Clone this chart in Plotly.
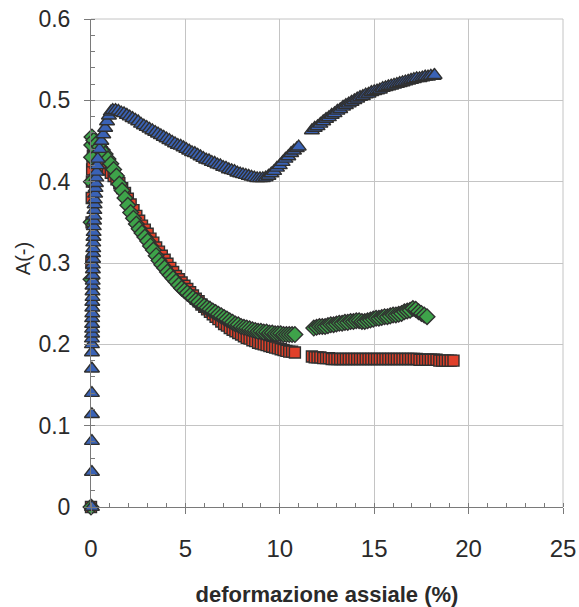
import plotly.graph_objects as go

# ---------------- data ----------------
# Blue triangles
blue_x = [0.05, 0.05, 0.05, 0.05, 0.05, 0.05, 0.05,
          0.05, 0.05, 0.06, 0.06, 0.06, 0.06, 0.07, 0.07, 0.07, 0.08, 0.08, 0.08, 0.09, 0.09,
          0.10, 0.10, 0.11, 0.11, 0.12, 0.12, 0.13, 0.14, 0.15, 0.16, 0.17, 0.18, 0.19, 0.20,
          0.22, 0.24, 0.26, 0.28, 0.30, 0.33, 0.36,
          0.45, 0.55, 0.65, 0.75, 0.85, 0.95, 1.05,
          1.15, 1.3, 1.45, 1.6, 1.75, 1.9, 2.05, 2.2, 2.35, 2.5, 2.65, 2.8, 2.95, 3.1, 3.25,
          3.4, 3.55, 3.7, 3.85, 4.0, 4.15, 4.3, 4.45, 4.6, 4.75, 4.9, 5.05, 5.2, 5.35, 5.5,
          5.65, 5.8, 5.95, 6.1, 6.25, 6.4, 6.55, 6.7, 6.85, 7.0, 7.15, 7.3, 7.45, 7.6, 7.75,
          7.9, 8.05, 8.2, 8.35, 8.5, 8.65, 8.8, 8.95, 9.1, 9.25, 9.4, 9.55, 9.7, 9.85, 10.0,
          10.15, 10.3, 10.45, 10.6, 10.75, 10.9, 11.0,
          None,
          11.7, 11.85, 12.0, 12.15, 12.3, 12.45, 12.6, 12.75, 12.9, 13.05, 13.2, 13.35, 13.5,
          13.65, 13.8, 13.95, 14.1, 14.25, 14.4, 14.55, 14.7, 14.85, 15.0, 15.15, 15.3, 15.45,
          15.6, 15.75, 15.9, 16.05, 16.2, 16.35, 16.5, 16.65, 16.8, 16.95, 17.1, 17.25, 17.4,
          17.55, 17.7, 17.85, 18.0, 18.15, 18.2]
blue_y = [0.0, 0.043, 0.081, 0.114, 0.140, 0.170, 0.190,
          0.200, 0.207, 0.213, 0.219, 0.225, 0.232, 0.238, 0.245, 0.252, 0.258, 0.265, 0.272, 0.278, 0.285,
          0.292, 0.298, 0.305, 0.312, 0.318, 0.325, 0.332, 0.338, 0.345, 0.352, 0.358, 0.365, 0.372, 0.378,
          0.385, 0.392, 0.398, 0.405, 0.412, 0.420, 0.428,
          0.440, 0.450, 0.458, 0.466, 0.474, 0.481, 0.486,
          0.488, 0.488, 0.487, 0.485, 0.484, 0.482, 0.480, 0.478, 0.476, 0.474, 0.471, 0.469, 0.467, 0.465, 0.463,
          0.461, 0.459, 0.457, 0.455, 0.453, 0.451, 0.449, 0.447, 0.445, 0.444, 0.442, 0.440, 0.438, 0.436, 0.435,
          0.433, 0.431, 0.429, 0.427, 0.426, 0.424, 0.423, 0.421, 0.420, 0.418, 0.417, 0.415, 0.414, 0.413, 0.411,
          0.410, 0.409, 0.408, 0.407, 0.406, 0.405, 0.404, 0.404, 0.404, 0.405, 0.407, 0.410, 0.413, 0.417, 0.420,
          0.424, 0.428, 0.431, 0.435, 0.438, 0.441, 0.443,
          None,
          0.463, 0.466, 0.468, 0.471, 0.474, 0.477, 0.479, 0.482, 0.484, 0.487, 0.489, 0.492, 0.494,
          0.496, 0.498, 0.500, 0.502, 0.504, 0.505, 0.507, 0.508, 0.510, 0.511, 0.512, 0.513, 0.515,
          0.516, 0.517, 0.518, 0.519, 0.520, 0.521, 0.522, 0.523, 0.524, 0.525, 0.526, 0.527, 0.527,
          0.528, 0.529, 0.529, 0.530, 0.530, 0.531]

# Red squares
red_x = [0.0, 0.02, 0.03, 0.04, 0.05, 0.06, 0.08, 0.10, 0.15,
         0.3, 0.45, 0.6, 0.75, 0.9, 1.05, 1.2, 1.35, 1.5, 1.65, 1.8, 1.95, 2.1, 2.25, 2.4,
         2.55, 2.7, 2.85, 3.0, 3.15, 3.3, 3.45, 3.6, 3.75, 3.9, 4.05, 4.2, 4.35, 4.5, 4.65,
         4.8, 4.95, 5.1, 5.25, 5.4, 5.55, 5.7, 5.85, 6.0, 6.15, 6.3, 6.45, 6.6, 6.75, 6.9,
         7.05, 7.2, 7.35, 7.5, 7.65, 7.8, 7.95, 8.1, 8.25, 8.4, 8.55, 8.7, 8.85, 9.0, 9.15,
         9.3, 9.45, 9.6, 9.75, 9.9, 10.05, 10.2, 10.35, 10.5, 10.65, 10.8,
         None,
         11.7, 11.85, 12.0, 12.15, 12.3, 12.45, 12.6, 12.75, 12.9, 13.05, 13.2, 13.35, 13.5,
         13.65, 13.8, 13.95, 14.1, 14.25, 14.4, 14.55, 14.7, 14.85, 15.0, 15.15, 15.3, 15.45,
         15.6, 15.75, 15.9, 16.05, 16.2, 16.35, 16.5, 16.65, 16.8, 16.95, 17.1, 17.25, 17.4,
         17.55, 17.7, 17.85, 18.0, 18.15, 18.3, 18.45, 18.6, 18.75, 18.9, 19.05, 19.2]
red_y = [0.0, 0.300, 0.350, 0.380, 0.400, 0.415, 0.425, 0.432, 0.434,
         0.432, 0.429, 0.425, 0.420, 0.415, 0.411, 0.407, 0.403, 0.398, 0.392, 0.386, 0.379, 0.372, 0.365, 0.358,
         0.352, 0.346, 0.341, 0.336, 0.330, 0.325, 0.319, 0.314, 0.309, 0.304, 0.299, 0.294, 0.289, 0.284, 0.280,
         0.276, 0.272, 0.268, 0.264, 0.260, 0.256, 0.253, 0.249, 0.246, 0.243, 0.240, 0.237, 0.234, 0.231, 0.228,
         0.225, 0.223, 0.220, 0.218, 0.216, 0.214, 0.212, 0.210, 0.208, 0.207, 0.205, 0.204, 0.202, 0.201, 0.200,
         0.199, 0.198, 0.197, 0.196, 0.195, 0.194, 0.193, 0.192, 0.191, 0.191, 0.190,
         None,
         0.185, 0.184, 0.184, 0.184, 0.183, 0.183, 0.183, 0.182, 0.182, 0.182, 0.182, 0.182, 0.182,
         0.182, 0.182, 0.182, 0.182, 0.182, 0.182, 0.182, 0.182, 0.182, 0.182, 0.182, 0.182, 0.182,
         0.182, 0.182, 0.182, 0.182, 0.182, 0.182, 0.182, 0.182, 0.182, 0.182, 0.182, 0.182, 0.181,
         0.181, 0.181, 0.181, 0.181, 0.181, 0.181, 0.180, 0.180, 0.180, 0.180, 0.180, 0.180]

# Green diamonds
green_x = [0.0, 0.0, 0.01, 0.02, 0.03, 0.04, 0.05, 0.15,
           0.3, 0.45, 0.6, 0.75, 0.9, 1.05, 1.2, 1.35, 1.5, 1.65, 1.8, 1.95, 2.1, 2.25, 2.4,
           2.55, 2.7, 2.85, 3.0, 3.15, 3.3, 3.45, 3.6, 3.75, 3.9, 4.05, 4.2, 4.35, 4.5, 4.65,
           4.8, 4.95, 5.1, 5.25, 5.4, 5.55, 5.7, 5.85, 6.0, 6.15, 6.3, 6.45, 6.6, 6.75, 6.9,
           7.05, 7.2, 7.35, 7.5, 7.65, 7.8, 7.95, 8.1, 8.25, 8.4, 8.55, 8.7, 8.85, 9.0, 9.15,
           9.3, 9.45, 9.6, 9.75, 9.9, 10.05, 10.2, 10.35, 10.5, 10.65, 10.8,
           None,
           11.8, 11.95, 12.1, 12.25, 12.4, 12.55, 12.7, 12.85, 13.0, 13.15, 13.3, 13.45, 13.6,
           13.75, 13.9, 14.05, 14.2, 14.35, 14.5, 14.65, 14.8, 14.95, 15.1, 15.25, 15.4, 15.55,
           15.7, 15.85, 16.0, 16.15, 16.3, 16.45, 16.6, 16.75, 16.9, 17.05, 17.2, 17.35, 17.5,
           17.65, 17.8]
green_y = [0.0, 0.280, 0.350, 0.400, 0.430, 0.445, 0.455, 0.451,
           0.447, 0.443, 0.439, 0.434, 0.428, 0.422, 0.415, 0.407, 0.397, 0.389, 0.380, 0.371, 0.362, 0.355, 0.348,
           0.342, 0.337, 0.332, 0.327, 0.321, 0.316, 0.309, 0.303, 0.298, 0.294, 0.289, 0.285, 0.281, 0.277, 0.273,
           0.269, 0.266, 0.263, 0.260, 0.257, 0.254, 0.252, 0.249, 0.247, 0.245, 0.243, 0.241, 0.239, 0.237, 0.235,
           0.233, 0.231, 0.229, 0.227, 0.225, 0.224, 0.222, 0.221, 0.220, 0.219, 0.218, 0.217, 0.216, 0.216, 0.215,
           0.215, 0.214, 0.214, 0.213, 0.213, 0.213, 0.212, 0.212, 0.212, 0.212, 0.212,
           None,
           0.220, 0.221, 0.222, 0.222, 0.222, 0.223, 0.224, 0.224, 0.225, 0.226, 0.226, 0.227, 0.227,
           0.228, 0.228, 0.229, 0.229, 0.228, 0.228, 0.229, 0.230, 0.231, 0.232, 0.232, 0.233, 0.234,
           0.234, 0.235, 0.236, 0.236, 0.237, 0.238, 0.240, 0.241, 0.242, 0.244, 0.243, 0.240, 0.238,
           0.236, 0.234]

x_ticks = [0, 5, 10, 15, 20, 25]
y_ticks = [0, 0.1, 0.2, 0.3, 0.4, 0.5, 0.6]
y_tick_text = ["0", "0.1", "0.2", "0.3", "0.4", "0.5", "0.6"]
x_title = "deformazione assiale (%)"
y_title = "A(-)"

# ---------------- figure ----------------
FONT = "Liberation Sans, Arial, sans-serif"
OUTLINE = dict(color="#303030", width=1.4)
AXIS = "#7a7a7a"
GRID = "#c4c4c4"
TEXT = "#2a2a2a"

fig = go.Figure()
fig.add_trace(go.Scatter(x=red_x, y=red_y, mode="markers", cliponaxis=False,
                         marker=dict(symbol="square", size=11, color="#e0402a", line=OUTLINE)))
fig.add_trace(go.Scatter(x=green_x, y=green_y, mode="markers", cliponaxis=False,
                         marker=dict(symbol="diamond", size=12, color="#3ea34a", line=OUTLINE)))
fig.add_trace(go.Scatter(x=blue_x, y=blue_y, mode="markers", cliponaxis=False,
                         marker=dict(symbol="triangle-up", size=13, color="#3a62b5", line=OUTLINE)))

fig.update_layout(
    width=579, height=607,
    margin=dict(l=91, r=16, t=19, b=100),
    paper_bgcolor="white", plot_bgcolor="white",
    showlegend=False,
    font=dict(family=FONT, color=TEXT),
    shapes=[
        dict(type="line", xref="paper", yref="paper", x0=0, x1=1, y0=1, y1=1,
             line=dict(color=GRID, width=1), layer="below"),
        dict(type="line", xref="paper", yref="paper", x0=1, x1=1, y0=0, y1=1,
             line=dict(color=GRID, width=1), layer="below"),
    ],
)
fig.update_xaxes(
    range=[0, 25], tickvals=x_ticks, ticktext=[str(v) for v in x_ticks],
    automargin=False, ticklabeloverflow="allow",
    showgrid=True, gridcolor=GRID, gridwidth=1, zeroline=False,
    showline=True, linecolor=AXIS, linewidth=1,
    ticks="outside", ticklen=6, tickcolor=AXIS,
    minor=dict(ticks="inside", dtick=1, ticklen=4, tickcolor=AXIS, showgrid=False),
    tickfont=dict(size=24, family=FONT, color=TEXT),
    ticklabelstandoff=14,
    title=dict(text="<b>" + x_title + "</b>", font=dict(size=22, family=FONT, color=TEXT),
               standoff=26),
)
fig.update_yaxes(
    range=[0, 0.6], tickvals=y_ticks, ticktext=y_tick_text,
    automargin=False, ticklabeloverflow="allow",
    showgrid=True, gridcolor=GRID, gridwidth=1, zeroline=False,
    showline=True, linecolor=AXIS, linewidth=1,
    ticks="outside", ticklen=6, tickcolor=AXIS,
    minor=dict(ticks="inside", dtick=0.02, ticklen=4, tickcolor=AXIS, showgrid=False),
    tickfont=dict(size=23, family=FONT, color=TEXT),
    ticklabelstandoff=9,
)
fig.add_annotation(text=y_title, textangle=-90, xref="paper", yref="paper",
                   x=-0.144, y=0.508, xanchor="center", yanchor="middle", showarrow=False,
                   font=dict(size=20, family=FONT, color=TEXT))

# remove the browser's default 8 px body margin so the figure fills the window exactly
fig.write_html("out.html",
               config={"displayModeBar": False},
               post_script="document.body.style.margin='0';document.body.style.overflow='hidden';")
